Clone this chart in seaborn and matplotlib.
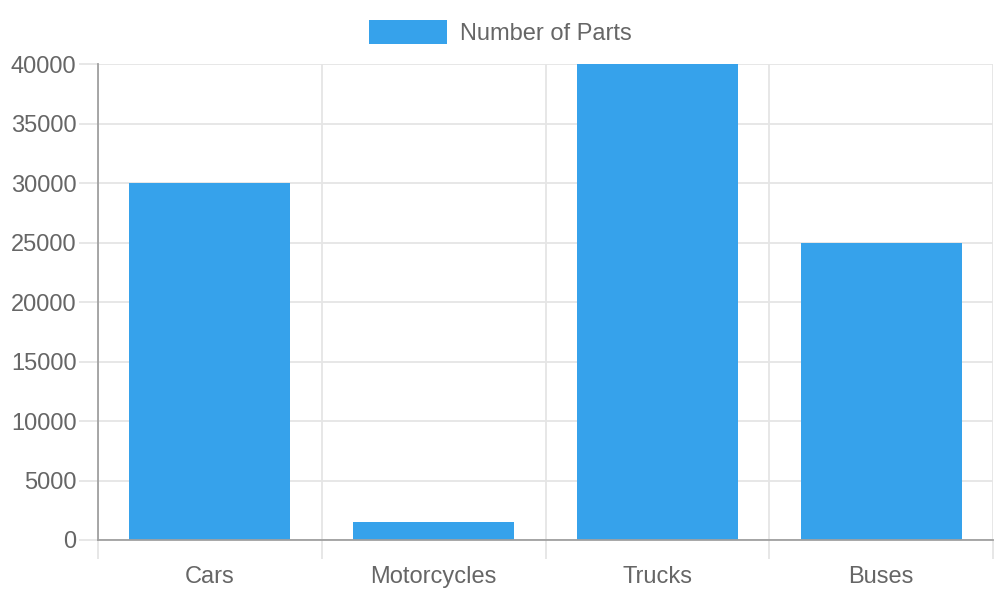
import matplotlib
matplotlib.use('Agg')
import matplotlib.pyplot as plt
import pandas as pd
import seaborn as sns
from matplotlib.ticker import FixedLocator, MultipleLocator

categories = ['Cars', 'Motorcycles', 'Trucks', 'Buses']
parts = [30000, 1500, 40000, 25000]
series_name = 'Number of Parts'

df = pd.DataFrame({'vehicle': categories, 'parts': parts})

sns.set_style('white')
plt.rcParams['font.family'] = ['Liberation Sans', 'DejaVu Sans']
txt = '#666666'
grid = '#e5e5e5'
axis_col = '#a0a0a0'

fig = plt.figure(figsize=(10, 6), dpi=100)
ax = fig.add_axes([0.098, 0.1, 0.895, 0.7933])

sns.barplot(data=df, x='vehicle', y='parts', color='#36A2EB', saturation=1,
            width=0.72, linewidth=0, label=series_name, ax=ax, zorder=3)

ax.set_xlim(-0.5, len(categories) - 0.5)
ax.set_ylim(0, 40000)
ax.yaxis.set_major_locator(MultipleLocator(5000))
ax.xaxis.set_minor_locator(FixedLocator([i - 0.5 for i in range(len(categories) + 1)]))

ax.set_xlabel('')
ax.set_ylabel('')

for s in ['top', 'right']:
    ax.spines[s].set_visible(False)
for s in ['left', 'bottom']:
    ax.spines[s].set_color(axis_col)
    ax.spines[s].set_linewidth(1.3)
    ax.spines[s].set_zorder(4)

ax.grid(axis='y', which='major', color=grid, linewidth=1.3, zorder=0)
ax.grid(axis='x', which='minor', color=grid, linewidth=1.3, zorder=0)
ax.grid(axis='x', which='major', visible=False)

ax.tick_params(axis='y', which='major', length=14, width=1.3, color=grid,
               pad=1.5, labelsize=17, labelcolor=txt, left=True)
ax.tick_params(axis='x', which='major', length=0, pad=18.5, labelsize=17, labelcolor=txt)
ax.tick_params(axis='x', which='minor', length=14, width=1.3, color=grid, bottom=True)

ax.legend(loc='lower center', bbox_to_anchor=(0.45, 0.995), frameon=False,
          fontsize=17, labelcolor=txt, handlelength=3.3, handleheight=1.2,
          handletextpad=0.55)

plt.savefig('out.png', dpi=100)
